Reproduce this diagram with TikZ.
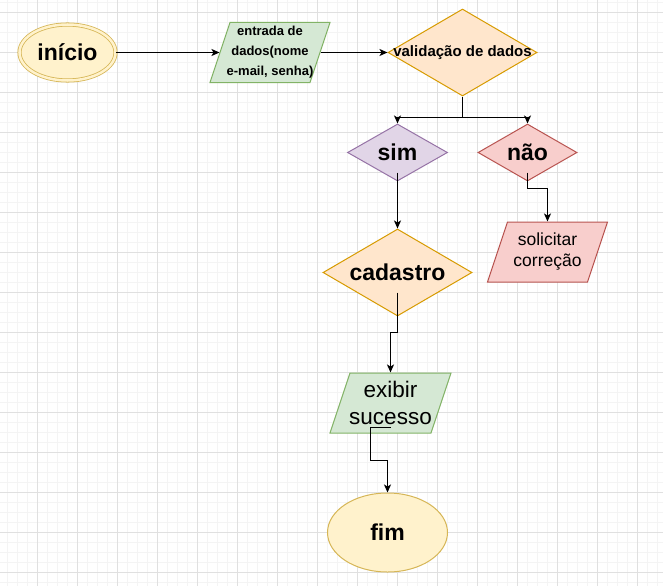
\documentclass[tikz,border=0pt]{standalone}
\usepackage{fontspec}
\setmainfont{Liberation Sans}
\usetikzlibrary{shapes.geometric,arrows.meta}

\definecolor{yelfill}{HTML}{FFF2CC}
\definecolor{yelline}{HTML}{D6B656}
\definecolor{grnfill}{HTML}{D5E8D4}
\definecolor{grnline}{HTML}{82B366}
\definecolor{orgfill}{HTML}{FFE6CC}
\definecolor{orgline}{HTML}{D79B00}
\definecolor{purfill}{HTML}{E1D5E7}
\definecolor{purline}{HTML}{9673A6}
\definecolor{redfill}{HTML}{F8CECC}
\definecolor{redline}{HTML}{B85450}
\definecolor{gridmin}{HTML}{F4F4F4}
\definecolor{gridmaj}{HTML}{E0E0E0}

\begin{document}
\begin{tikzpicture}[x=1pt,y=-1pt,
  flow/.style={draw=black,line width=1.2pt,-{Stealth[length=8pt,width=7pt,inset=2pt]}},
  terminal/.style={ellipse,draw=yelline,fill=yelfill,line width=1pt,inner sep=0pt},
  datain/.style={trapezium,trapezium left angle=71.57,trapezium right angle=108.43,
    text height=0pt,text depth=0pt,inner xsep=40pt,inner ysep=30pt,line width=1pt},
  decision/.style={diamond,line width=1pt,inner sep=0pt},
  bigb/.style={font=\fontsize{23}{28}\selectfont\bfseries},
  plain/.style={align=center}]
  \fill[white] (0,0) rectangle (663,586);
  \useasboundingbox (0,0) rectangle (663,586);
  % grid (fine lines, then every 40)
  \foreach \gx in {7,17,...,657} \draw[gridmin,line width=0.8pt] (\gx,0) -- (\gx,586);
  \foreach \gy in {2,12,...,582} \draw[gridmin,line width=0.8pt] (0,\gy) -- (663,\gy);
  \foreach \gx in {37,77,...,637} \draw[gridmaj,line width=0.8pt] (\gx,0) -- (\gx,586);
  \foreach \gy in {12,52,...,572} \draw[gridmaj,line width=0.8pt] (0,\gy) -- (663,\gy);

  \node[terminal,double=yelfill,double distance=2.5pt,line width=0.8pt,
    minimum width=96pt,minimum height=56pt,label={[bigb]center:início}] (ini) at (67.5,52.5) {};
  \node[datain,draw=grnline,fill=grnfill,
    label={[align=center,font=\fontsize{13}{20}\selectfont\bfseries]center:{entrada de\\dados(nome\\e-mail, senha)}}] (ent) at (270,52.5) {};
  \node[decision,draw=orgline,fill=orgfill,minimum width=149pt,minimum height=87pt,
    label={[font=\fontsize{15}{18}\selectfont\bfseries]center:validação de dados}] (val) at (462.5,52.5) {};
  \node[decision,draw=purline,fill=purfill,minimum width=100pt,minimum height=57pt,
    label={[bigb]center:sim}] (sim) at (397.5,152.5) {};
  \node[decision,draw=redline,fill=redfill,minimum width=99pt,minimum height=57pt,
    label={[bigb]center:não}] (nao) at (527.5,152.5) {};
  \node[datain,draw=redline,fill=redfill,
    label={[plain,font=\fontsize{17.5}{21}\selectfont]center:{solicitar\\correção}}] (sol) at (547.5,252) {};
  \node[decision,draw=orgline,fill=orgfill,minimum width=149pt,minimum height=87pt,
    label={[bigb]center:cadastro}] (cad) at (397.5,272.5) {};
  \node[datain,draw=grnline,fill=grnfill,inner xsep=40.5pt,
    label={[plain,font=\fontsize{22.5}{27}\selectfont]center:{exibir\\sucesso}}] (exi) at (390.5,403) {};
  \node[terminal,minimum width=120pt,minimum height=79pt,
    label={[bigb]center:fim}] (fim) at (387.5,532.5) {};

  \draw[flow] (ini.east) -- (ent.left side);
  \draw[flow] (ent.right side) -- (val.west);
  \draw[flow] (val.south) -- ++(0,21) coordinate (split) -| (sim.north);
  \draw[flow] (split) -| (nao.north);
  \draw[flow] ([yshift=9pt]sim.south) -- (cad.north);
  \draw[flow] ([yshift=9pt]nao.south) -- ++(0,16) -| (sol.north);
  \draw[flow] ([yshift=24pt]cad.south) -- ++(0,40) -| (exi.north);
  \draw[flow] ([yshift=6pt]exi.south) -- ++(-20,0) -- ++(0,33) -| (fim.north);
\end{tikzpicture}
\end{document}
